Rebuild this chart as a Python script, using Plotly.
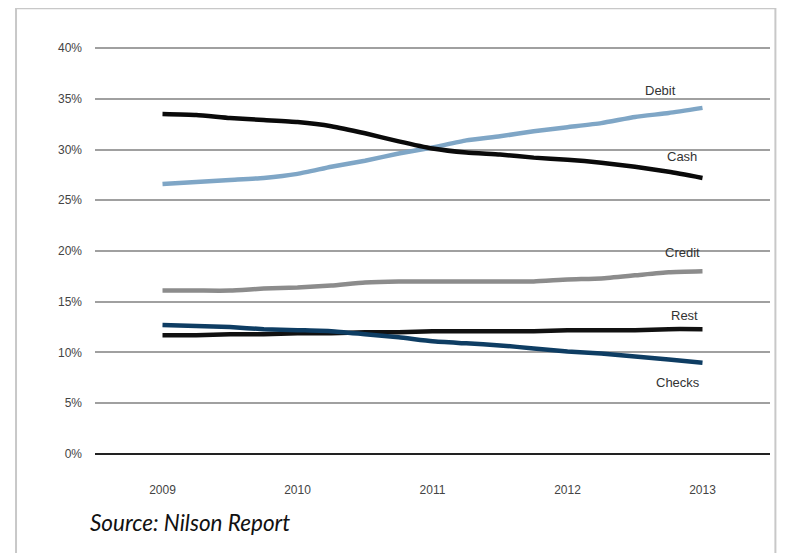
import plotly.graph_objects as go

# Quarterly readings, 2009 .. 2013
years = [2009 + q / 4 for q in range(17)]
cash = [33.5, 33.4, 33.1, 32.9, 32.7, 32.3, 31.6, 30.8, 30.1, 29.7, 29.5, 29.2, 29.0, 28.7, 28.3, 27.8, 27.2]
debit = [26.6, 26.8, 27.0, 27.2, 27.6, 28.3, 28.9, 29.6, 30.2, 30.9, 31.3, 31.8, 32.2, 32.6, 33.2, 33.6, 34.1]
credit = [16.1, 16.1, 16.1, 16.3, 16.4, 16.6, 16.9, 17.0, 17.0, 17.0, 17.0, 17.0, 17.2, 17.3, 17.6, 17.9, 18.0]
rest = [11.7, 11.7, 11.8, 11.8, 11.9, 11.9, 12.0, 12.0, 12.1, 12.1, 12.1, 12.1, 12.2, 12.2, 12.2, 12.3, 12.3]
checks = [12.7, 12.6, 12.5, 12.3, 12.2, 12.1, 11.8, 11.5, 11.1, 10.9, 10.7, 10.4, 10.1, 9.9, 9.6, 9.3, 9.0]

tick_years = [2009, 2010, 2011, 2012, 2013]
tick_pcts = [0, 5, 10, 15, 20, 25, 30, 35, 40]

series = [
    ("Credit", credit, "#8c8c8c"),
    ("Rest", rest, "#111111"),
    ("Checks", checks, "#0e3d63"),
    ("Debit", debit, "#7fa6c6"),
    ("Cash", cash, "#0a0a0a"),
]

# label offsets (years, pct) relative to the final point
label_pos = {
    "Debit": (-0.31, 35.8),
    "Cash": (-0.15, 29.3),
    "Credit": (-0.15, 19.9),
    "Rest": (-0.13, 13.6),
    "Checks": (-0.18, 7.0),
}

fig = go.Figure()
for name, vals, color in series:
    fig.add_trace(go.Scatter(
        x=years, y=vals, mode="lines", name=name,
        line=dict(color=color, width=4.5, shape="spline", smoothing=0.5),
        showlegend=False, hoverinfo="skip",
    ))
    dx, ly = label_pos[name]
    fig.add_annotation(
        x=years[-1] + dx, y=ly, text=name, showarrow=False,
        font=dict(family="Liberation Sans Narrow, Liberation Sans, Arial", size=13, color="#333333"),
        xanchor="center", yanchor="middle",
    )

fig.add_annotation(
    xref="paper", yref="paper", x=-0.011, y=-0.165, text="Source: Nilson Report",
    showarrow=False, xanchor="left", yanchor="middle",
    font=dict(family="Lato, Open Sans", size=22.5, color="#111111", style="italic"),
)

# outer light frame
fig.add_shape(type="rect", xref="paper", yref="paper",
              x0=-0.117, x1=1.008, y0=-0.35, y1=1.095,
              line=dict(color="#c8c8c8", width=2), fillcolor="rgba(0,0,0,0)", layer="below")

fig.update_layout(
    width=787, height=553,
    margin=dict(l=87, r=25, t=39, b=106),
    paper_bgcolor="white", plot_bgcolor="white",
    xaxis=dict(
        range=[2008.5, 2013.5], tickmode="array", tickvals=tick_years,
        ticktext=[str(y) for y in tick_years], showgrid=False, zeroline=False,
        showline=False, ticks="", ticklabelstandoff=26,
        tickfont=dict(family="Liberation Sans Narrow, Liberation Sans, Arial", size=12, color="#444444"),
    ),
    yaxis=dict(
        range=[-0.1, 40.1], tickmode="array", tickvals=tick_pcts,
        ticktext=[f"{v}%" for v in tick_pcts], showgrid=True,
        gridcolor="#a0a0a0", gridwidth=1.5, zeroline=True, zerolinecolor="#222222",
        zerolinewidth=1.5, showline=False, ticks="", ticklabelstandoff=12,
        tickfont=dict(family="Liberation Sans Narrow, Liberation Sans, Arial", size=12, color="#444444"),
    ),
)

fig.write_html("out.html")
